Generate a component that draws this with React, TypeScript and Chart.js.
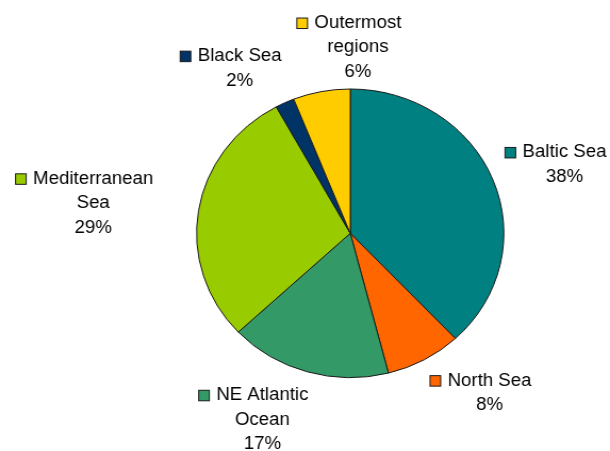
import React, { useEffect, useRef } from "react";
import Chart from "chart.js/auto";

// ---- data ----
const CATEGORIES: string[] = [
  "Baltic Sea",
  "North Sea",
  "NE Atlantic Ocean",
  "Mediterranean Sea",
  "Black Sea",
  "Outermost regions",
];
const VALUES: number[] = [38, 8, 17, 29, 2, 6];
const COLORS: string[] = ["#008080", "#FF6600", "#339966", "#99CC00", "#003366", "#FFCC00"];

// ---- layout / style ----
const OUT_W = 610;
const OUT_H = 451;
const IN_W = 573; // internal canvas width, stretched horizontally to OUT_W
const FONT_SIZE = 17.5;
const FONT_FAMILY = "'Liberation Sans', Arial, sans-serif";
const LINE_H = 24.4;
const CAP = FONT_SIZE * 0.716;
const KEY = 10;
const KEY_H = 10.5;
const KEY_GAP = 6.5;
const WRAP_WIDTH = 100;
const LABEL_DIST = 15;
const LABEL_NUDGE: [number, number][] = [
  [0.6, -2.3],
  [22.9, -2.7],
  [-32, -3],
  [-28.5, -0.7],
  [-24, 0],
  [38, 5.3],
];

function wrapText(ctx: CanvasRenderingContext2D, text: string, maxW: number): string[] {
  const words = text.split(" ");
  const lines: string[] = [];
  let cur = "";
  for (const w of words) {
    const test = cur ? cur + " " + w : w;
    if (cur && ctx.measureText(test).width > maxW) {
      lines.push(cur);
      cur = w;
    } else {
      cur = test;
    }
  }
  if (cur) lines.push(cur);
  return lines;
}

const labelPlugin = {
  id: "seaLabels",
  afterDraw(chart: any) {
    const ctx: CanvasRenderingContext2D = chart.ctx;
    const meta = chart.getDatasetMeta(0);
    const total = VALUES.reduce((a, b) => a + b, 0);
    ctx.save();
    ctx.font = `${FONT_SIZE}px ${FONT_FAMILY}`;
    meta.data.forEach((arc: any, i: number) => {
      const { x, y, startAngle, endAngle, outerRadius } = arc.getProps(
        ["x", "y", "startAngle", "endAngle", "outerRadius"],
        true
      );
      const mid = (startAngle + endAngle) / 2;
      const cos = Math.cos(mid);
      const sin = Math.sin(mid);
      const lines = wrapText(ctx, CATEGORIES[i], WRAP_WIDTH);
      lines.push(Math.round((VALUES[i] / total) * 100) + "%");
      const widths = lines.map((l) => ctx.measureText(l).width);
      const M = Math.max(...widths);
      const w1 = widths[0];
      const left = Math.min(-w1 / 2 - KEY - KEY_GAP, -M / 2);
      const right = M / 2;
      const bw = right - left;
      const bh = lines.length * LINE_H;
      const ax = x + (outerRadius + LABEL_DIST) * cos;
      const ay = y + (outerRadius + LABEL_DIST) * sin;
      const bcx = ax + (bw / 2) * cos;
      const bcy = ay + (bh / 2) * sin;
      const [nx, ny] = LABEL_NUDGE[i];
      const xt = bcx + bw / 2 - right + nx;
      const yc = bcy + ny;
      lines.forEach((line, j) => {
        const lineCenter = yc + (j - (lines.length - 1) / 2) * LINE_H;
        const baseline = lineCenter + CAP / 2;
        ctx.fillStyle = "#000000";
        ctx.textAlign = "center";
        ctx.textBaseline = "alphabetic";
        ctx.fillText(line, xt, baseline);
        if (j === 0) {
          const kx = xt - w1 / 2 - KEY_GAP - KEY;
          const ky = baseline - KEY_H + 0.5;
          ctx.fillStyle = COLORS[i];
          ctx.fillRect(kx, ky, KEY, KEY_H);
          ctx.strokeStyle = "#1a1a1a";
          ctx.lineWidth = 1;
          ctx.strokeRect(kx, ky, KEY, KEY_H);
        }
      });
    });
    ctx.restore();
  },
};

export default function App() {
  const canvasRef = useRef<HTMLCanvasElement | null>(null);

  useEffect(() => {
    document.body.style.margin = "0";
    const canvas = canvasRef.current;
    if (!canvas) return;
    const cx = 329;
    const cy = 233.3;
    const side = 2 * 144.3 + 1;
    const chart = new Chart(canvas, {
      type: "pie",
      data: {
        labels: CATEGORIES,
        datasets: [
          {
            data: VALUES,
            backgroundColor: COLORS,
            borderColor: "#1a1a1a",
            borderWidth: 1,
            hoverOffset: 0,
          },
        ],
      },
      options: {
        responsive: false,
        animation: false,
        devicePixelRatio: 1,
        layout: {
          padding: {
            left: cx - side / 2,
            top: cy - side / 2,
            right: IN_W - (cx - side / 2) - side,
            bottom: OUT_H - (cy - side / 2) - side,
          },
        },
        plugins: {
          legend: { display: false },
          tooltip: { enabled: false },
        },
        events: [],
      },
      plugins: [labelPlugin],
    });
    return () => chart.destroy();
  }, []);

  return (
    <div
      style={{
        position: "fixed",
        left: 0,
        top: 0,
        width: OUT_W,
        height: OUT_H,
        background: "#ffffff",
        overflow: "hidden",
      }}
    >
      <canvas
        ref={canvasRef}
        width={IN_W}
        height={OUT_H}
        style={{ width: `${OUT_W}px`, height: `${OUT_H}px`, display: "block" }}
      />
    </div>
  );
}
